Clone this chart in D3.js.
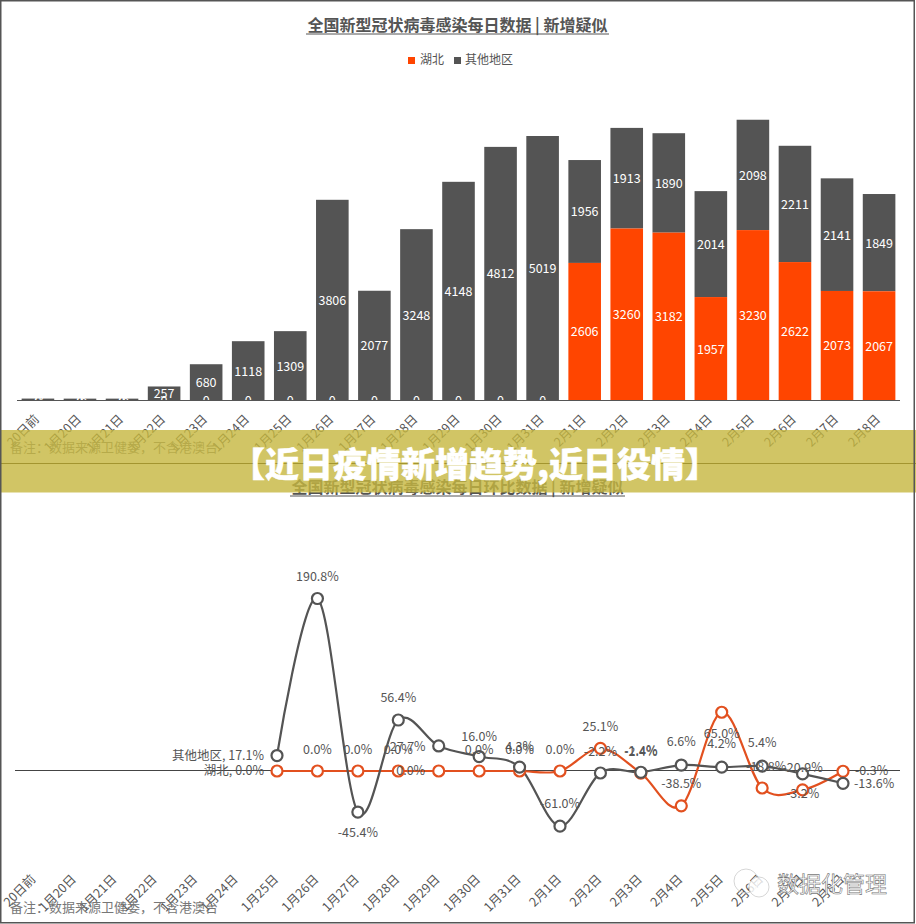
<!DOCTYPE html>
<html><head><meta charset="utf-8">
<script src="https://cdn.jsdelivr.net/npm/d3@7/dist/d3.min.js"></script>
<style>
html,body{margin:0;padding:0;background:#fff;}
svg{display:block;}
text{font-family:"Noto Sans CJK SC","Open Sans",sans-serif;}
</style></head><body><div id="c"></div>
<script>
const categories=["20日前","1月20日","1月21日","1月22日","1月23日","1月24日","1月25日","1月26日","1月27日","1月28日","1月29日","1月30日","1月31日","2月1日","2月2日","2月3日","2月4日","2月5日","2月6日","2月7日","2月8日"];
const hubeiNew=[0,0,0,0,0,0,0,0,0,0,0,0,0,2606,3260,3182,1957,3230,2622,2073,2067];
const otherNew=[27,26,26,257,680,1118,1309,3806,2077,3248,4148,4812,5019,1956,1913,1890,2014,2098,2211,2141,1849];
const ratioCats=categories.slice(6);
const hubeiRatio=[0,0,0,0,0,0,0,0,25.1,-2.4,-38.5,65.0,-18.8,-20.9,-0.3];
const otherRatio=[17.1,190.8,-45.4,56.4,27.7,16.0,4.3,-61.0,-2.2,-1.4,6.6,4.2,5.4,-3.2,-13.6];
const hubeiLabels=["湖北, 0.0%","0.0%","0.0%","0.0%","0.0%","0.0%","0.0%","0.0%","25.1%","-2.4%","-38.5%","65.0%","-18.8%","-20.9%","-0.3%"];
const otherLabels=["其他地区, 17.1%","190.8%","-45.4%","56.4%","27.7%","16.0%","4.3%","-61.0%","-2.2%","-1.4%","6.6%","4.2%","5.4%","-3.2%","-13.6%"];
const title1="全国新型冠状病毒感染每日数据 | 新增疑似";
const title2="全国新型冠状病毒感染每日环比数据 | 新增疑似";
const note="备注：数据来源卫健委，不含港澳台";
const banner="【近日疫情新增趋势,近日役情】";
const legendNames=["湖北","其他地区"];

const W=916,H=924,ORANGE="#ff4500",GRAY="#545454",LINEO="#e2501f",TXT="#555";
const svg=d3.select("#c").append("svg").attr("width",W).attr("height",H);
svg.append("rect").attr("width",W).attr("height",H).attr("fill","#fff");

/* ---------- top chart ---------- */
const x1=d3.scaleBand().domain(categories).range([17,900]).paddingInner(0.225).paddingOuter(0.11);
const y1=d3.scaleLinear().domain([0,5019]).range([400,136]);
const upper=svg.append("g");
const stack=categories.map((c,i)=>({c,h:hubeiNew[i],o:otherNew[i]}));
upper.selectAll(".o").data(stack).join("rect").attr("x",d=>x1(d.c)).attr("width",x1.bandwidth())
 .attr("y",d=>y1(d.h+d.o)).attr("height",d=>y1(d.h)-y1(d.h+d.o)).attr("fill",GRAY);
upper.selectAll(".h").data(stack).join("rect").attr("x",d=>x1(d.c)).attr("width",x1.bandwidth())
 .attr("y",d=>y1(d.h)).attr("height",d=>y1(0)-y1(d.h)).attr("fill",ORANGE);
const mid=d=>x1(d.c)+x1.bandwidth()/2;
upper.selectAll(".ol").data(stack).join("text").attr("x",mid).attr("y",d=>(y1(d.h)+y1(d.h+d.o))/2+5)
 .attr("text-anchor","middle").attr("font-size",12.5).attr("fill","#fff").text(d=>d.o);
upper.selectAll(".hl").data(stack).join("text").attr("x",mid).attr("y",d=>(y1(0)+y1(d.h))/2+5)
 .attr("text-anchor","middle").attr("font-size",12.5).attr("fill","#fff").text(d=>d.h);
upper.append("line").attr("x1",17).attr("x2",900).attr("y1",400.5).attr("y2",400.5).attr("stroke","#555");
upper.selectAll(".t").data(categories).join("text").attr("text-anchor","end").attr("font-size",12.5).attr("fill",TXT)
 .attr("transform",c=>`translate(${x1(c)+x1.bandwidth()/2+2},${420}) rotate(-45)`).text(c=>c);
/* legend */
const lg=svg.append("g");
[[408,420],[454,465]].forEach((p,i)=>{
 lg.append("rect").attr("x",p[0]).attr("y",57).attr("width",7).attr("height",7).attr("fill",i?GRAY:ORANGE);
 lg.append("text").attr("x",p[1]).attr("y",64).attr("font-size",12).attr("fill",TXT).text(legendNames[i]);
});
function drawTitle(t,y,x0,x1u){
 svg.append("text").attr("x",(x0+x1u)/2).attr("y",y).attr("text-anchor","middle").attr("font-size",16).attr("font-weight",700).attr("fill","#555").text(t);
 svg.append("line").attr("x1",x0).attr("x2",x1u).attr("y1",y+3).attr("y2",y+3).attr("stroke","#555").attr("stroke-width",1);
}
drawTitle(title1,31,306,609);
svg.append("text").attr("x",10).attr("y",452).attr("font-size",13).attr("fill","#777").text(note);

/* ---------- bottom chart ---------- */
drawTitle(title2,493,290,625);
const x2=d3.scalePoint().domain(ratioCats).range([277,843]);
const y2=d3.scaleLinear().domain([-100,200]).range([771+90.4,771-180.8]);
svg.append("line").attr("x1",15).attr("x2",900).attr("y1",770.5).attr("y2",770.5).attr("stroke","#444");
const lineGen=d3.line().x((d,i)=>x2(ratioCats[i])).y(d=>y2(d)).curve(d3.curveCardinal.tension(0));
svg.append("path").attr("d",lineGen(hubeiRatio)).attr("fill","none").attr("stroke",LINEO).attr("stroke-width",2.2);
svg.append("path").attr("d",lineGen(otherRatio)).attr("fill","none").attr("stroke",GRAY).attr("stroke-width",2.2);
function dots(vals,col){
 svg.append("g").selectAll("circle").data(vals).join("circle").attr("cx",(d,i)=>x2(ratioCats[i])).attr("cy",d=>y2(d)).attr("r",5.5)
  .attr("fill","#fff").attr("stroke",col).attr("stroke-width",2.2);
}
dots(hubeiRatio,LINEO);dots(otherRatio,GRAY);
/* label placement (dx, dy from the point; anchor) */
const hubeiPlace=[[-13,4,"end"],[0,-17],[0,-17],[0,-17],[-28,4],[0,-17],[0,-17],[0,-17],[0,-17],[0,-17],[0,-18],[0,26],[4,-17],[0,-18],[12,4,"start"]];
const otherPlace=[[-13,4,"end"],[0,-18],[0,25],[0,-18],[-31,5],[0,-16],[0,-16],[0,-18],[0,-17],[0,-17],[0,-19],[0,-19],[0,-19],[0,24],[11,5,"start"]];
function labels(txt,vals,place){
 svg.append("g").selectAll("text").data(txt).join("text")
  .attr("x",(d,i)=>x2(ratioCats[i])+place[i][0]).attr("y",(d,i)=>y2(vals[i])+place[i][1])
  .attr("text-anchor",(d,i)=>place[i][2]||"middle").attr("font-size",12.5).attr("fill",TXT).text(d=>d);
}
labels(hubeiLabels,hubeiRatio,hubeiPlace);
labels(otherLabels,otherRatio,otherPlace);
svg.append("g").selectAll("text").data(categories).join("text").attr("text-anchor","end").attr("font-size",12.5).attr("fill",TXT)
 .attr("transform",(c,i)=>`translate(${x2(ratioCats[0])+(i-6)*40.43+2},${880}) rotate(-45)`).text(c=>c);
svg.append("text").attr("x",10).attr("y",912).attr("font-size",13).attr("fill","#777").text(note);

/* watermark */
svg.append("circle").attr("cx",746).attr("cy",881).attr("r",12).attr("fill","none").attr("stroke","#ccc").attr("stroke-width",.8);
svg.append("circle").attr("cx",759).attr("cy",887).attr("r",10).attr("fill","#fff").attr("fill-opacity",.8).attr("stroke","#ccc").attr("stroke-width",.8);
svg.append("text").attr("x",777).attr("y",892).attr("font-size",22).attr("fill","#fff").attr("stroke","#777").attr("stroke-width",.6).text("数据化管理");

/* banner and frame */
svg.append("rect").attr("x",0).attr("y",430).attr("width",W).attr("height",62.5).attr("fill","rgb(197,182,62)").attr("fill-opacity",.8);
svg.append("line").attr("x1",0).attr("x2",W).attr("y1",463.5).attr("y2",463.5).attr("stroke","#a3952f");
svg.append("text").attr("x",475).attr("y",477).attr("text-anchor","middle").attr("font-size",34).attr("font-weight",900).attr("fill","#fff").attr("stroke","#fff").attr("stroke-width",.5).text(banner);
svg.append("rect").attr("x",.75).attr("y",.75).attr("width",W-2.5).attr("height",H-2).attr("fill","none").attr("stroke","#555").attr("stroke-width",1.5);
</script></body></html>
